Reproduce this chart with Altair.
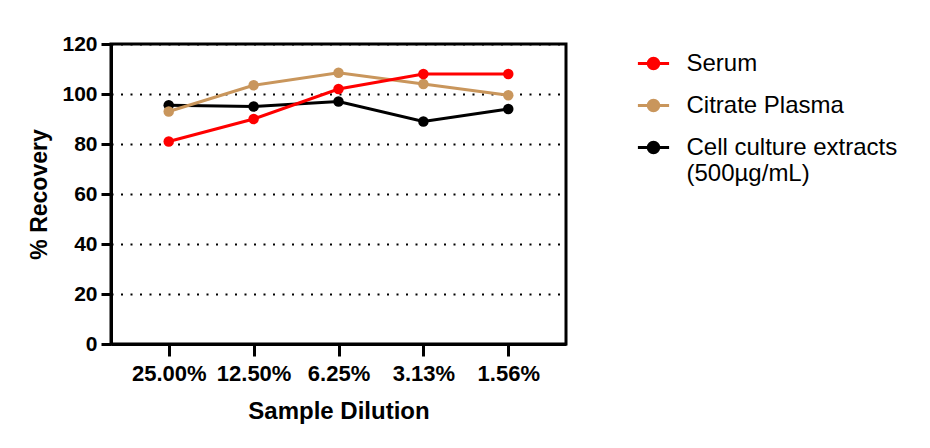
import sys
import altair as alt
import pandas as pd

dilutions = ["25.00%", "12.50%", "6.25%", "3.13%", "1.56%"]
series_names = ["Serum", "Citrate Plasma", "Cell culture extracts (500µg/mL)"]
serum = [81, 90, 102, 108, 108]
citrate = [93, 103.5, 108.5, 104, 99.5]
cell = [95.5, 95, 97, 89, 94]
colors = ["#FF0000", "#C9965C", "#000000"]
y_ticks = [0, 20, 40, 60, 80, 100, 120]

rows = []
for name, vals in zip(series_names, [serum, citrate, cell]):
    for d, v in zip(dilutions, vals):
        rows.append({"Dilution": d, "Recovery": v, "Series": name})
df = pd.DataFrame(rows)

FONT = "Arial, Liberation Sans, sans-serif"
SYMBOL = ("M0,-0.63M0,0.63"
          "M-0.8,0L0.8,0M-0.27,0A0.27,0.27,0,1,1,0.27,0A0.27,0.27,0,1,1,-0.27,0Z")

try:
    legend = alt.Legend(
        title=None,
        orient="none",
        legendX=521.5,
        legendY=-1.5,
        symbolType=SYMBOL,
        symbolSize=1521,
        symbolStrokeWidth=3,
        symbolOpacity=1,
        labelFont=FONT,
        labelFontSize=24,
        labelColor="#000000",
        labelLimit=400,
        labelOffset=12,
        labelExpr="datum.label == 'Cell culture extracts (500µg/mL)' ? ['Cell culture extracts', '(500µg/mL)'] : datum.label",
    )

    cscale = alt.Scale(domain=series_names, range=colors)
    stroke = alt.Stroke("Series:N", scale=cscale, legend=legend)
    fill = alt.Fill("Series:N", scale=cscale, legend=legend)
    x = alt.X(
        "Dilution:O",
        sort=dilutions,
        scale=alt.Scale(type="point", padding=0.68),
        axis=alt.Axis(
            title="Sample Dilution", labelAngle=0, grid=False,
            tickSize=12, labelPadding=7, labelFontSize=22, titleFontSize=24,
            titlePadding=15,
        ),
    )
    y = alt.Y(
        "Recovery:Q",
        scale=alt.Scale(domain=[0, 120], nice=False),
        axis=alt.Axis(
            values=y_ticks, title="% Recovery", grid=True, gridDash=[2, 7.5],
            gridColor="#000000", gridWidth=2, tickSize=10, labelPadding=4,
            labelFontSize=21, titleFontSize=23, titlePadding=10,
        ),
    )

    layers = []
    for name in reversed(series_names):
        base = alt.Chart(df).transform_filter(alt.datum.Series == name)
        layers.append(base.mark_line(strokeWidth=3).encode(x=x, y=y, stroke=stroke))
        layers.append(base.mark_circle(size=110, opacity=1).encode(x=x, y=y, fill=fill))

    chart = alt.layer(*layers).properties(
        width=455, height=300,
        padding={"left": 20, "top": 25, "right": 5, "bottom": 5},
        background="#FFFFFF",
    ).configure_view(
        stroke="#000000", strokeWidth=3,
    ).configure_axis(
        domainColor="#000000", domainWidth=3, tickColor="#000000", tickWidth=3,
        labelFont=FONT, titleFont=FONT, labelFontWeight="bold", titleFontWeight="bold",
        labelColor="#000000", titleColor="#000000",
    )

    chart.save("out.html", embed_options={"renderer": "svg", "actions": False})
except Exception as e:
    sys.stderr.write(str(e)[:800] + "\n")
    sys.exit(1)
